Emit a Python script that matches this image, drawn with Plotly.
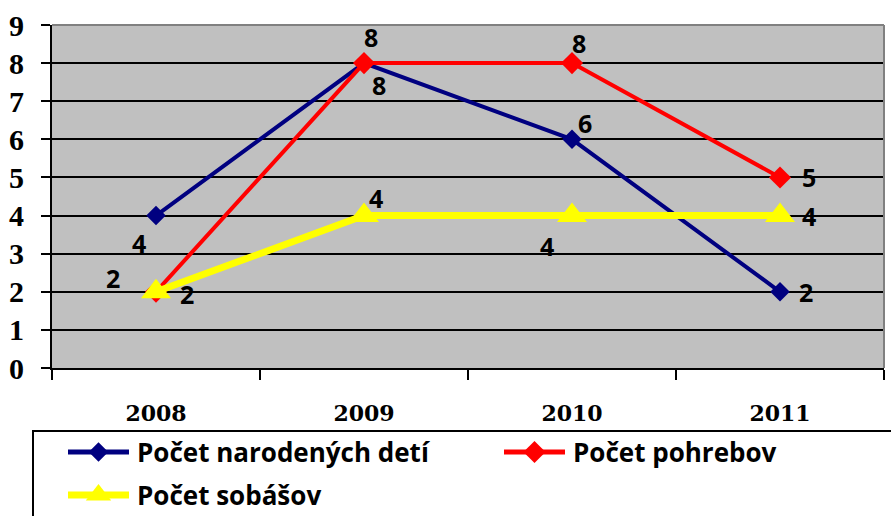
import plotly.graph_objects as go

years = ["2008", "2009", "2010", "2011"]
narodenych = [4, 8, 6, 2]
pohrebov = [2, 8, 8, 5]
sobasov = [2, 4, 4, 4]
names = ["Počet narodených detí", "Počet pohrebov", "Počet sobášov"]
y_ticks = [0, 1, 2, 3, 4, 5, 6, 7, 8, 9]

colors = ["#000080", "#FF0000", "#FFFF00"]
symbols = ["diamond", "diamond", "triangle-up"]
msizes = [15, 17, 26]
lwidths = [4, 4, 7]
series = [narodenych, pohrebov, sobasov]

# label offsets (px) for data labels: (xshift, yshift)
offsets = [
    [(-17, -27), (15, -22), (13, 16), (26, 0)],
    [(-43, 14), (7, 26), (7, 20), (29, 0)],
    [(31, -2), (12, 18), (-25, -30), (29, 0)],
]

W, H = 891, 516
ML, MR, MT, MB = 52, 7, 25, 0
PH = H - MT - MB
PW = W - ML - MR
AXIS_BOTTOM_PX = 368
main_dom0 = (H - AXIS_BOTTOM_PX) / PH

lab_font = dict(family="Open Sans", size=25, color="black", weight="bold")
leg_font = dict(family="Open Sans", size=26, color="black", weight="bold")

fig = go.Figure()
for s, nm, c, sym, ms, lw in zip(series, names, colors, symbols, msizes, lwidths):
    fig.add_trace(go.Scatter(x=years, y=s, name=nm, mode="lines+markers",
                             line=dict(color=c, width=lw),
                             marker=dict(symbol=sym, size=ms, color=c),
                             showlegend=False, xaxis="x", yaxis="y"))

for s, offs in zip(series, offsets):
    for i, (v, (dx, dy)) in enumerate(zip(s, offs)):
        fig.add_annotation(x=i, y=v, xref="x", yref="y", text=str(v), showarrow=False,
                           xshift=dx, yshift=dy, font=lab_font)

# ---- manual legend on an overlay axis measured in page pixels ----
leg_x0 = [68, 504, 68]     # sample line start (px)
leg_y = [452, 452, 495]    # row centre (px)
leg_len = 61
for nm, c, sym, ms, lw, x0, yy in zip(names, colors, symbols, msizes, lwidths, leg_x0, leg_y):
    fig.add_trace(go.Scatter(x=[x0, x0 + leg_len], y=[yy, yy], mode="lines",
                             line=dict(color=c, width=min(lw, 6) + 1), showlegend=False,
                             hoverinfo="skip", xaxis="x2", yaxis="y2"))
    fig.add_trace(go.Scatter(x=[x0 + leg_len / 2], y=[yy], mode="markers",
                             marker=dict(symbol=sym, size=ms if sym != "triangle-up" else 22, color=c),
                             showlegend=False, hoverinfo="skip", xaxis="x2", yaxis="y2"))
    fig.add_annotation(x=x0 + leg_len + 6, y=yy, xref="x2", yref="y2", text=nm,
                       showarrow=False, xanchor="left", yanchor="middle", font=leg_font)

# plot background and border
fig.add_shape(type="rect", xref="x domain", yref="y domain", x0=0, x1=1, y0=0, y1=1,
              fillcolor="#C0C0C0", line=dict(width=0), layer="below")
fig.add_shape(type="line", xref="x domain", yref="y domain", x0=0, x1=1, y0=1, y1=1,
              line=dict(color="#808080", width=2), layer="above")
fig.add_shape(type="line", xref="x domain", yref="y domain", x0=1, x1=1, y0=0, y1=1,
              line=dict(color="#808080", width=2), layer="above")
# legend box
fig.add_shape(type="rect", xref="paper", yref="paper",
              x0=(33 - ML) / PW, x1=(900 - ML) / PW,
              y0=(H - 520 - MB) / PH, y1=(H - 431 - MB) / PH,
              line=dict(color="black", width=2), fillcolor="rgba(0,0,0,0)")

fig.update_layout(
    width=W, height=H,
    margin=dict(l=ML, r=MR, t=MT, b=MB, autoexpand=False),
    paper_bgcolor="white", plot_bgcolor="rgba(0,0,0,0)",
    showlegend=False,
    xaxis=dict(type="category", range=[-0.5, 3.5], tickson="boundaries",
               ticks="outside", ticklen=10, tickwidth=2, tickcolor="black",
               showline=True, linecolor="black", linewidth=2, showgrid=False,
               tickfont=dict(family="DejaVu Serif", size=22, color="black", weight="bold"),
               ticklabelstandoff=25, zeroline=False, anchor="y", automargin=False),
    yaxis=dict(domain=[main_dom0, 1], range=[0, 9], tickvals=y_ticks, ticks="outside",
               ticklen=9, tickwidth=2, tickcolor="black", showline=True, linecolor="black",
               linewidth=2, showgrid=True, gridcolor="black", gridwidth=2, zeroline=False,
               tickfont=dict(family="Liberation Serif", size=30, color="black", weight="bold"),
               ticklabelstandoff=11, anchor="x", automargin=False),
    xaxis2=dict(domain=[0, 1], range=[ML, W - MR], visible=False, anchor="y2", automargin=False),
    yaxis2=dict(domain=[0, (H - 431) / PH], range=[H, 431], visible=False, anchor="x2",
                automargin=False),
)

fig.write_html("out.html", config={"displayModeBar": False},
               post_script="document.body.style.margin='0';document.body.style.overflow='hidden';")
